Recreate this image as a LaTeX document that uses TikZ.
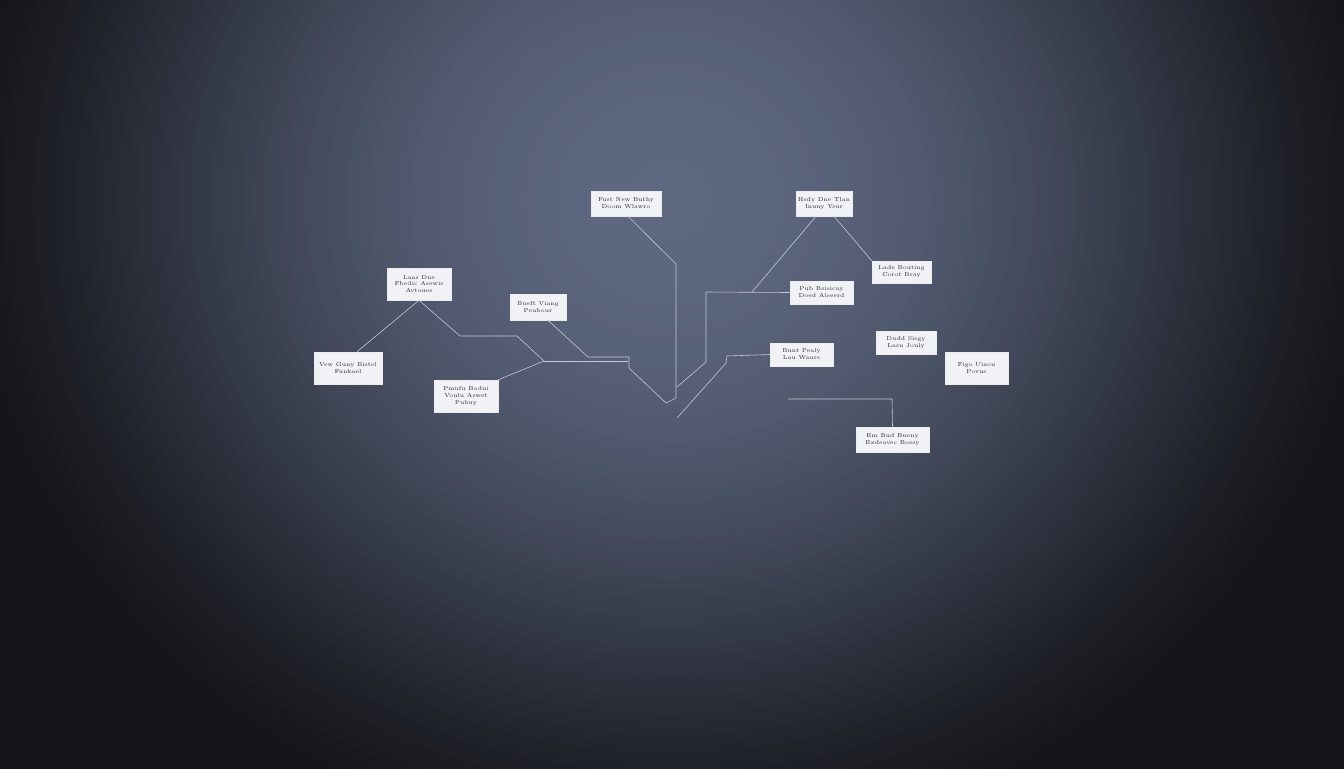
\documentclass[tikz,border=0pt]{standalone}
\usepackage{tikz}
\definecolor{bgdark}{HTML}{141519}
\definecolor{bglight}{HTML}{5E6881}
\definecolor{boxfill}{HTML}{F1F2F5}
\definecolor{boxtext}{HTML}{2A2A30}
\definecolor{wire}{HTML}{C4C9D4}
\tikzset{
  card/.style={draw=white!85!gray, line width=0.4pt, fill=boxfill, text=boxtext,
    inner sep=0.5pt, align=center, font=\fontsize{4.3}{5.2}\selectfont},
  wireline/.style={draw=wire, line width=0.45pt, line join=miter}
}
\begin{document}
\begin{tikzpicture}[x=0.75pt,y=-0.75pt]
\useasboundingbox (0,0) rectangle (1344,768);
\fill[bgdark] (-5,-5) rectangle (1349,773);
\begin{scope}
\clip (0,0) rectangle (1344,768);
\foreach \i in {0,...,70} {
  \pgfmathsetmacro\dd{1-\i/70}
  \pgfmathsetmacro\pp{100*(1-\dd*\dd)^1.5}
  \fill[bglight!\pp!bgdark] (670,200) ellipse [x radius={730*\dd}, y radius={680*\dd}];
}
\end{scope}

% cards
\node[card, minimum width=70*0.75pt, minimum height=25*0.75pt] (b1) at (626,203.5) {Fust New Buthy\\Doom Wlawro};
\node[card, minimum width=56*0.75pt, minimum height=25*0.75pt] (b2) at (824,203.5) {Hsdy Dne Tlan\\Inuny Ysur};
\node[card, minimum width=64*0.75pt, minimum height=32*0.75pt] (b3) at (419,284) {Laas Dne\\Fbedic Asewis\\Avtoues};
\node[card, minimum width=56*0.75pt, minimum height=26*0.75pt] (b4) at (538,307) {Bueft Viang\\Peubour};
\node[card, minimum width=59*0.75pt, minimum height=22*0.75pt] (b5) at (901.5,272) {Lade Bouting\\Corot Bray};
\node[card, minimum width=63*0.75pt, minimum height=23*0.75pt] (b6) at (821.5,292.5) {Pub Bsisicay\\Doed Alseerd};
\node[card, minimum width=68*0.75pt, minimum height=32*0.75pt] (b7) at (348,368) {Vew Guny Bistel\\Funkael};
\node[card, minimum width=63*0.75pt, minimum height=23*0.75pt] (b8) at (801.5,354.5) {Bunt Pealy\\Lau Waurs};
\node[card, minimum width=60*0.75pt, minimum height=23*0.75pt] (b9) at (906,342.5) {Dudd Sisgy\\Lasu Jouly};
\node[card, minimum width=63*0.75pt, minimum height=32*0.75pt] (b10) at (976.5,368) {Figo Uiaou\\Povus};
\node[card, minimum width=64*0.75pt, minimum height=32*0.75pt] (b11) at (466,396) {Pmufu Bodui\\Voulu Aswet\\Pubuy};
\node[card, minimum width=73*0.75pt, minimum height=25*0.75pt] (b12) at (892.5,439.5) {Em Bud Bueny\\Exdeavec Bossy};

% junction coordinates
\coordinate (j1) at (676,264);
\coordinate (j2) at (676,398);
\coordinate (j3a) at (629,357);
\coordinate (j3b) at (629,368);
\coordinate (j4) at (666,403);
\coordinate (j5) at (706,362);
\coordinate (j5b) at (677,387);
\coordinate (j6) at (706,292);
\coordinate (j7) at (544,361);
\coordinate (j7b) at (628,361);
\coordinate (j8) at (460,336);
\coordinate (j9) at (517,336);
\coordinate (j10) at (588,357);
\coordinate (j12) at (727,356);
\coordinate (j12b) at (726,363);
\coordinate (j13) at (677,418);
\coordinate (j14) at (788,399);
\coordinate (j15) at (892,399);
\coordinate (j16) at (752,292);

% connectors
\draw[wireline] ([xshift=10*0.75pt]b4.south) -- (j10) -- (j3a) -- (j3b) -- (j4) -- (j2) -- (j1) -- ([xshift=2*0.75pt]b1.south);
\draw[wireline] (j7) -- (j7b);
\draw[wireline] (j5b) -- (j5) -- (j6) -- (b6.west);
\draw[wireline] ([xshift=-8*0.75pt]b2.south) -- (j16);
\draw[wireline] ([xshift=10*0.75pt]b2.south) -- (b5.north west);
\draw[wireline] (b8.west) -- (j12) -- (j12b) -- (j13);
\draw[wireline] (b3.south) -- ([xshift=9*0.75pt]b7.north);
\draw[wireline] (b3.south) -- (j8) -- (j9) -- (j7);
\draw[wireline] (j7) -- (b11.north east);
\draw[wireline] (j14) -- (j15) -- (b12.north);
\end{tikzpicture}
\end{document}
